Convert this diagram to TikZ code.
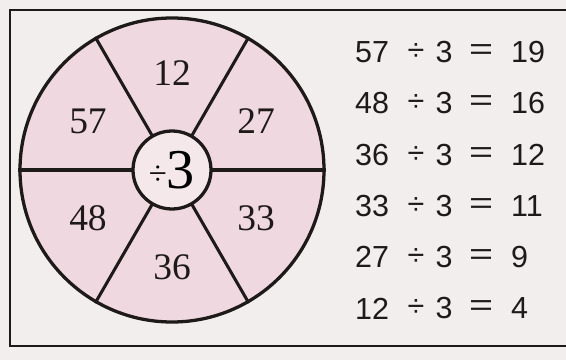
\documentclass[tikz,border=0pt]{standalone}
\usepackage{fontspec}
\setmainfont{Liberation Serif}
\newfontfamily\eqfont{Liberation Sans}
\definecolor{paper}{RGB}{241,238,237}
\definecolor{sectorpink}{RGB}{240,216,224}
\definecolor{hubpink}{RGB}{244,232,235}
\definecolor{inkline}{RGB}{30,26,26}
\usepackage{tikz}
\usetikzlibrary{positioning,calc}

\begin{document}
\begin{tikzpicture}[x=0.03cm,y=0.03cm,
    ring/.style={draw=inkline,line width=2.8pt,circle,inner sep=0pt},
    num/.style={font=\fontsize{32}{32}\selectfont,text=inkline},
    eq/.style={font=\eqfont\fontsize{26}{26}\selectfont,text=inkline,inner sep=0pt}]
  \fill[paper] (0,0) rectangle (566,360);
  \useasboundingbox (0,0) rectangle (566,360);
  \draw[inkline,line width=2.4pt] (10,14) rectangle (580,350);
  % the wheel
  \node[ring,fill=sectorpink,minimum size=304*0.03cm] (wheel) at (172,190) {};
  \foreach \a in {0,60,...,300}{
    \draw[inkline,line width=2.6pt] (wheel.center) ++(\a:39) -- (wheel.\a);
  }
  \node[ring,fill=hubpink,minimum size=78*0.03cm,
        font=\fontsize{48}{48}\selectfont] (hub) at (wheel.center)
        {\raisebox{3pt}{\fontsize{28}{28}\selectfont ÷}3};
  \foreach \n/\a in {12/90, 57/150, 48/210, 36/270, 33/330, 27/30}{
    \node[num] (s\n) at ($(wheel.center)+(\a:97)$) {\n};
  }
  % the divisions
  \foreach \i/\n/\r in {1/57/19, 2/48/16, 3/36/12, 4/33/11, 5/27/9, 6/12/4}{
    \node[eq,anchor=west] (a\i) at (355,360-52-51.3*\i+51.3) {\n};
    \node[eq] (d\i) at (416,360-52-51.3*\i+51.3) {÷};
    \node[eq] (t\i) at (444,360-52-51.3*\i+51.3) {3};
    \node[eq] (e\i) at (481,360-52-51.3*\i+51.3) {\scalebox{1.35}[1]{=}};
    \node[eq,anchor=west] (r\i) at (511,360-52-51.3*\i+51.3) {\r};
  }
\end{tikzpicture}
\end{document}
